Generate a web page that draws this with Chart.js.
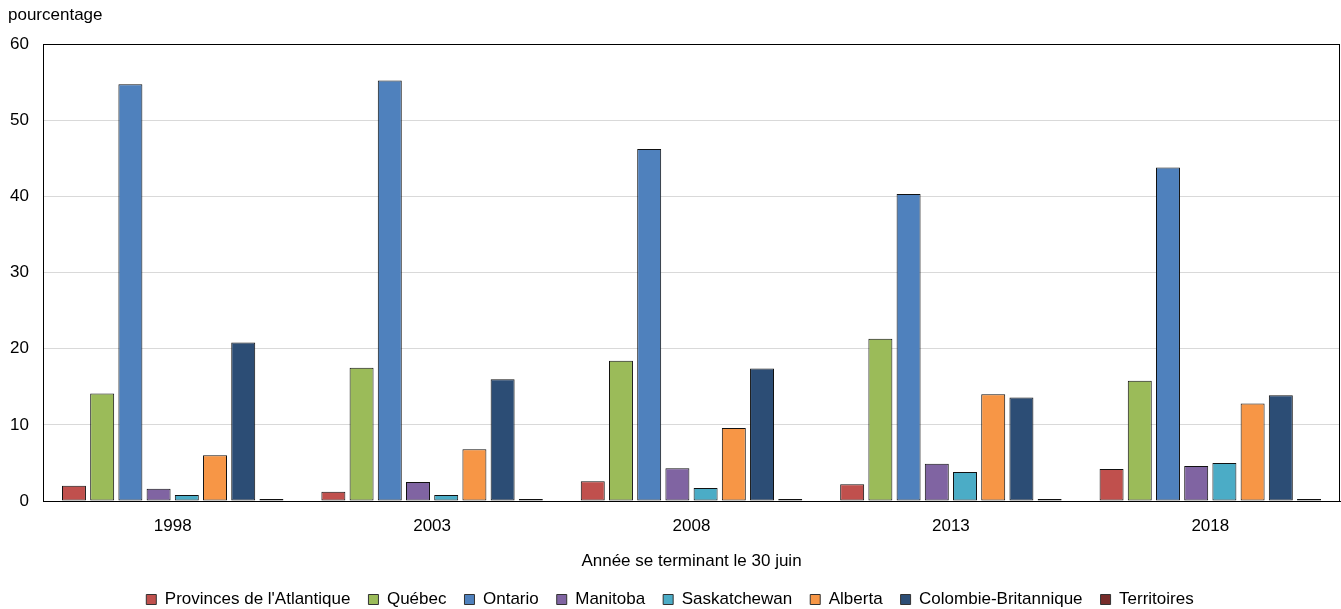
<!DOCTYPE html>
<html>
<head>
<meta charset="utf-8">
<script src="https://cdn.jsdelivr.net/npm/chart.js@4.4.0/dist/chart.umd.min.js"></script>
<style>
  html, body { margin: 0; padding: 0; background: #fff; }
  #wrap { width: 1341px; height: 609px; position: relative; }
</style>
</head>
<body>
<div id="wrap"><canvas id="chart"></canvas></div>
<script>
// Data
const years = ['1998', '2003', '2008', '2013', '2018'];
const regions = ['Provinces de l\'Atlantique', 'Québec', 'Ontario', 'Manitoba', 'Saskatchewan', 'Alberta', 'Colombie-Britannique', 'Territoires'];
const atlantique = [2.0, 1.2, 2.6, 2.2, 4.2];
const quebec = [14.1, 17.5, 18.4, 21.3, 15.8];
const ontario = [54.7, 55.2, 46.2, 40.3, 43.8];
const manitoba = [1.6, 2.5, 4.3, 4.9, 4.6];
const saskatchewan = [0.8, 0.8, 1.7, 3.8, 5.0];
const alberta = [6.0, 6.8, 9.6, 14.0, 12.8];
const colombieBrit = [20.8, 16.0, 17.4, 13.6, 13.9];
const territoires = [0.1, 0.1, 0.1, 0.1, 0.2];
const yTicks = [0, 10, 20, 30, 40, 50, 60];
const colors = ['#c0504d', '#9bbb59', '#4f81bd', '#8064a2', '#4bacc6', '#f79646', '#2c4d75', '#772c2a'];

const FONT = '"Liberation Sans Narrow", "Arial Narrow", "Liberation Sans", sans-serif';
const FS = 17;
const series = [atlantique, quebec, ontario, manitoba, saskatchewan, alberta, colombieBrit, territoires];

// unit label, frame round the plot, and a fixed legend height
const frame = {
    id: 'frame',
    afterInit(chart) {
        const lg = chart.legend, fit = lg.fit;
        lg.fit = function () { fit.call(this); this.height = 36; };
    },
    afterDraw(chart) {
        const { ctx, chartArea: a } = chart;
        ctx.save();
        ctx.strokeStyle = '#000';
        ctx.lineWidth = 1;
        ctx.strokeRect(Math.round(a.left) + .5, Math.round(a.top) + .5, Math.round(a.right - a.left) - 1, Math.round(a.bottom - a.top));
        ctx.fillStyle = '#000';
        ctx.font = FS + 'px ' + FONT;
        ctx.textBaseline = 'middle';
        ctx.fillText('pourcentage', 8, 15);
        ctx.restore();
    }
};

new Chart(document.getElementById('chart'), {
    type: 'bar',
    data: {
        labels: years,
        datasets: series.map((d, i) => ({
            label: regions[i],
            data: d,
            backgroundColor: colors[i],
            borderColor: '#111',
            borderWidth: 1,
            borderSkipped: false,
            minBarLength: 2,
            categoryPercentage: 0.87,
            barPercentage: 0.85
        }))
    },
    options: {
        responsive: true,
        maintainAspectRatio: false,
        animation: false,
        layout: { padding: { top: 44, right: 1, left: 0, bottom: 0 } },
        scales: {
            x: {
                afterFit: s => { s.height = 72; },
                grid: { display: false },
                border: { color: '#000', width: 1 },
                ticks: { color: '#000', font: { family: FONT, size: FS }, padding: 7 },
                title: { display: true, text: 'Année se terminant le 30 juin', color: '#000', font: { family: FONT, size: FS }, padding: { top: 10, bottom: 1 } }
            },
            y: {
                min: 0, max: 60,
                afterBuildTicks: s => { s.ticks = yTicks.map(v => ({ value: v })); },
                afterFit: s => { s.width = 43; },
                grid: { color: '#d9d9d9', lineWidth: 1, drawTicks: false },
                border: { color: '#000', width: 1 },
                ticks: { color: '#000', font: { family: FONT, size: FS }, padding: 14 }
            }
        },
        plugins: {
            legend: {
                position: 'bottom',
                labels: {
                    color: '#000',
                    font: { family: FONT, size: FS },
                    boxWidth: 10, boxHeight: 10,
                    padding: 18,
                    generateLabels: chart => chart.data.datasets.map((ds, i) => ({
                        text: ds.label,
                        fillStyle: ds.backgroundColor,
                        strokeStyle: '#333',
                        lineWidth: 1,
                        fontColor: '#000',
                        datasetIndex: i
                    }))
                }
            },
            tooltip: { enabled: false }
        }
    },
    plugins: [frame]
});
</script>
</body>
</html>
